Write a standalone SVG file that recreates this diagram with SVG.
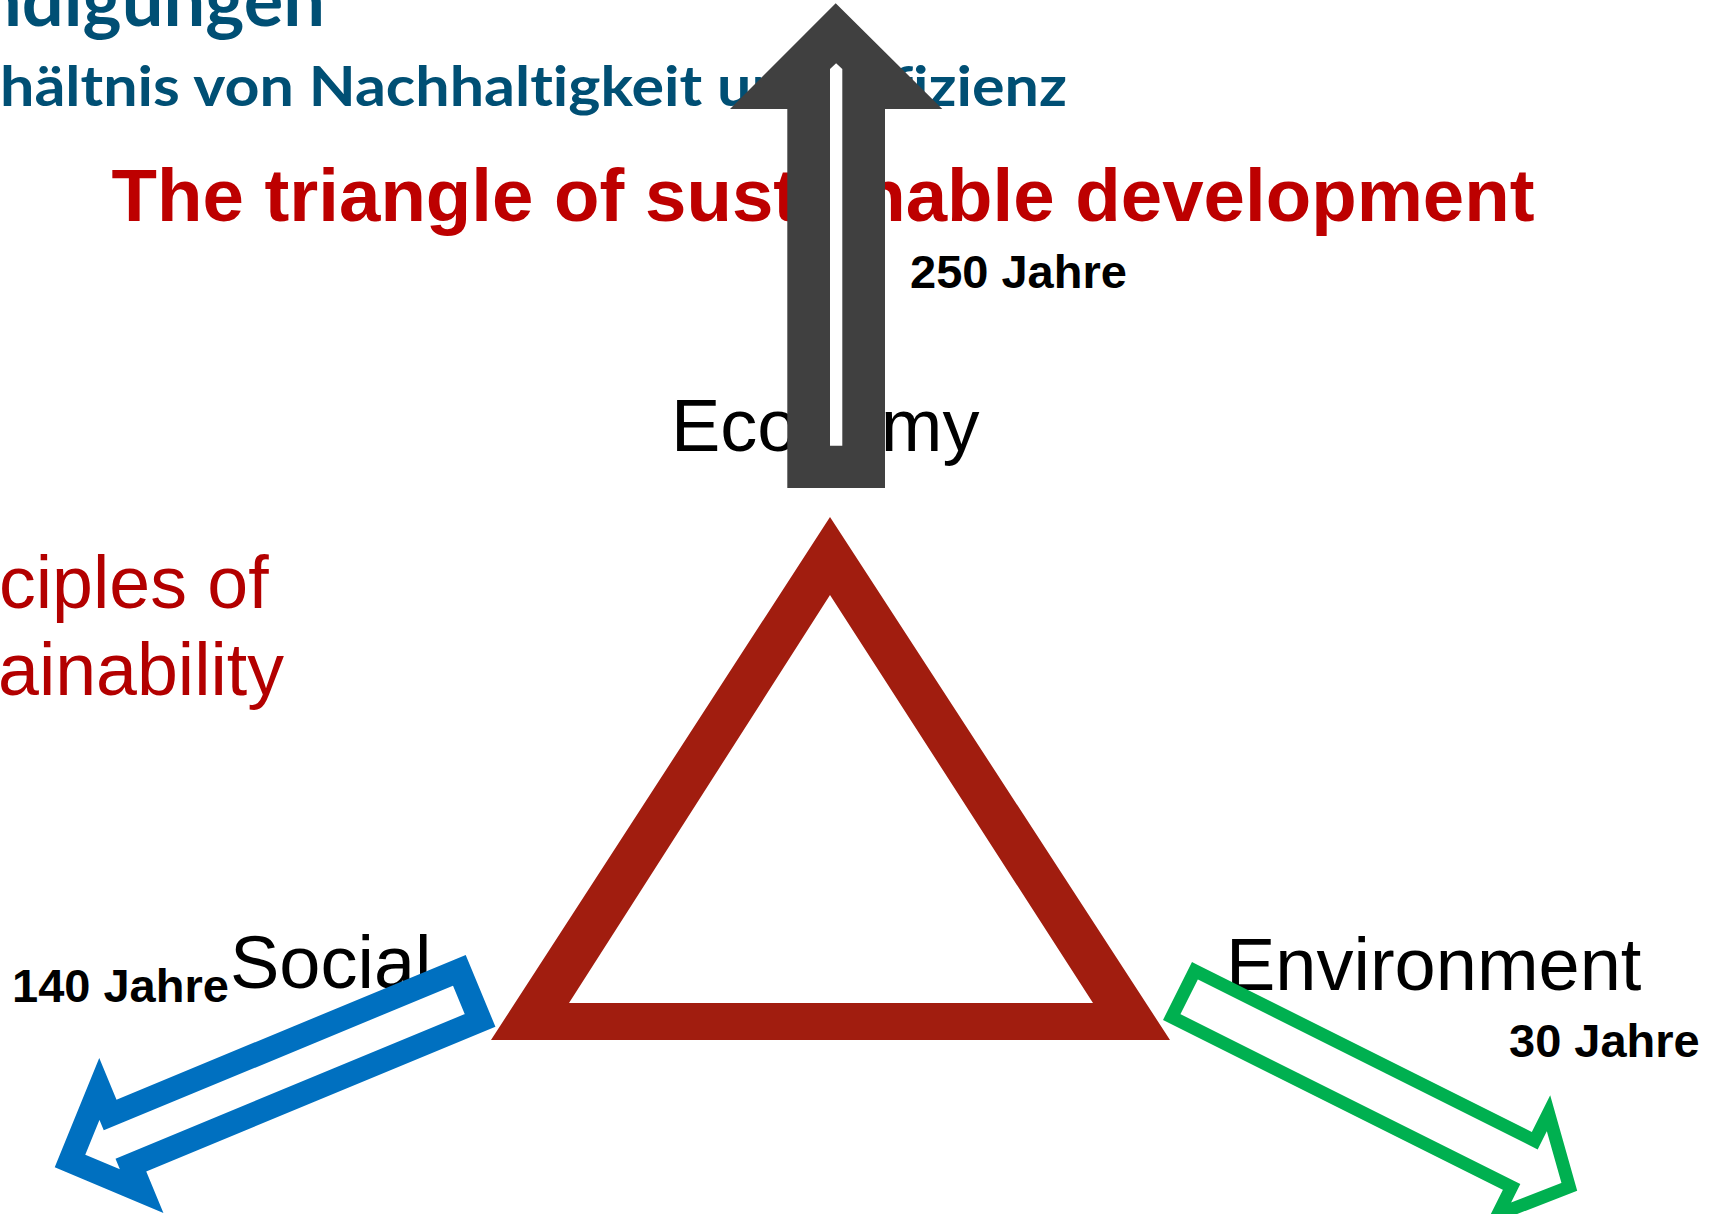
<svg xmlns="http://www.w3.org/2000/svg" width="1716" height="1214" viewBox="0 0 1716 1214">
  <style>
    .head { font-family: Lato, "Open Sans", "Liberation Sans", sans-serif; font-weight: 700; fill: #004f74; font-variant-ligatures: none; }
    .title { font-family: "Liberation Sans", Arial, sans-serif; font-weight: 700; fill: #bd0000; }
    .principle { font-family: "Liberation Sans", Arial, sans-serif; font-size: 73.5px; fill: #b30000; }
    .pillar { font-family: "Liberation Sans", Arial, sans-serif; font-size: 74px; fill: #000; }
    .years { font-family: "Liberation Sans", Arial, sans-serif; font-weight: 700; font-size: 47px; fill: #000; }
    .outline { fill: #fff; stroke-linejoin: miter; stroke-miterlimit: 10; }
  </style>
  <rect width="1716" height="1214" fill="#fff"/>

  <!-- slide headings -->
  <g id="headings">
    <text class="head" x="-20" y="26" font-size="72" textLength="345" lengthAdjust="spacingAndGlyphs">ndigungen</text>
    <text class="head" x="0" y="106" font-size="56" textLength="1067" lengthAdjust="spacingAndGlyphs">hältnis von Nachhaltigkeit und Effizienz</text>
  </g>

  <g id="title">
    <text class="title" x="111.5" y="220.5" font-size="74.5" textLength="1423" lengthAdjust="spacingAndGlyphs">The triangle of sustainable development</text>
  </g>

  <g id="principles">
    <text class="principle" x="-1" y="608">ciples of</text>
    <text class="principle" x="-2" y="695">ainability</text>
  </g>

  <!-- pillar labels -->
  <g id="node-economy">
    <text class="pillar" x="671" y="451">Economy</text>
  </g>
  <g id="node-social">
    <text class="pillar" x="230" y="988">Social</text>
  </g>
  <g id="node-environment">
    <text class="pillar" x="1226" y="990">Environment</text>
  </g>

  <!-- the sustainability triangle -->
  <g id="node-triangle">
    <path d="M830,517 L1170,1040 L491,1040 Z M830,595 L569,1003 L1093,1003 Z" fill="#a11d0f" fill-rule="evenodd"/>
  </g>

  <!-- time-span arrows -->
  <g id="connectors">
    <g id="arrow-economy">
      <polygon points="835.7,3.3 942.3,109 885,109 885,488 787.3,488 787.3,109 730,109" fill="#404040"/>
      <polygon points="836.1,63.3 842.3,69 842.3,445.7 830,445.7 830,69" fill="#fff"/>
    </g>
    <g id="arrow-social" transform="translate(465.7,955) rotate(157.5) scale(1,-1)">
      <polygon class="outline" stroke="#0070c0" stroke-width="23.5"
        points="11.75,11.75 389.75,11.75 389.75,-16.4 444.4,38.85 389.75,94.1 389.75,65.95 11.75,65.95"/>
    </g>
    <g id="arrow-environment" transform="translate(1192,962) rotate(26.57)">
      <polygon class="outline" stroke="#00b050" stroke-width="13"
        points="6.5,6.5 386.5,6.5 386.5,-24.2 438.1,32.4 386.5,89 386.5,58.3 6.5,58.3"/>
    </g>
  </g>

  <!-- durations -->
  <g id="durations">
    <text class="years" x="910" y="288">250 Jahre</text>
    <text class="years" x="12" y="1001.5">140 Jahre</text>
    <text class="years" x="1509" y="1057">30 Jahre</text>
  </g>
</svg>
